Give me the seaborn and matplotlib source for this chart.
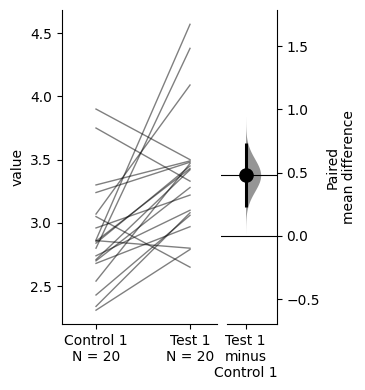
import numpy as np
import pandas as pd
import matplotlib
matplotlib.use('Agg')
import matplotlib.pyplot as plt
import seaborn as sns

groups = ['Control 1', 'Test 1']
control = [3.90, 3.75, 3.30, 3.24, 3.07, 3.05, 2.96, 2.865, 2.86, 2.84,
           2.80, 2.74, 2.71, 2.70, 2.68, 2.54, 2.43, 2.34, 2.31, 2.855]
test = [3.50, 3.33, 3.49, 3.48, 4.09, 2.65, 3.22, 4.57, 2.80, 3.45,
        4.38, 3.10, 3.42, 3.28, 2.97, 3.47, 3.06, 3.08, 2.79, 3.43]

n = len(control)
df = pd.DataFrame({
    'id': list(range(n)) * 2,
    'pos': [0] * n + [1] * n,
    'value': control + test,
})

diffs = np.array(test) - np.array(control)
mean_diff = diffs.mean()
se = diffs.std(ddof=1) / np.sqrt(n)
ci_low, ci_high = mean_diff - 1.96 * se, mean_diff + 1.96 * se
control_mean = np.mean(control)

fig = plt.figure(figsize=(3.65, 3.9), dpi=100)
ax = fig.add_axes([0.1685, 0.169, 0.426, 0.805])
cax = fig.add_axes([0.6055, 0.169, 0.153, 0.805])

# paired slopegraph
sns.lineplot(data=df, x='pos', y='value', units='id', estimator=None,
             color='black', alpha=0.5, lw=1, ax=ax)
ax.set_xlim(-0.367, 1.287)
ax.set_ylim(2.20, 4.682)
ax.set_xticks([0, 1])
ax.set_xticklabels([f'{g}\nN = {n}' for g in groups])
ax.set_yticks([2.5, 3.0, 3.5, 4.0, 4.5])
ax.set_xlabel('')
ax.set_ylabel('value')
sns.despine(ax=ax)

# contrast axes, aligned so 0 = control mean
lo, hi = ax.get_ylim()
cax.set_ylim(lo - control_mean, hi - control_mean)
cax.set_xlim(0, 1)
xc = 0.44
grid = np.linspace(mean_diff - 3.6 * se, mean_diff + 3.6 * se, 300)
dens = np.exp(-0.5 * ((grid - mean_diff) / se) ** 2)
cax.fill_betweenx(grid, xc, xc + 0.27 * dens, color='#8a8a8a', alpha=0.9, lw=0)
cax.axhline(0, color='black', lw=0.8)
cax.axhline(mean_diff, color='black', lw=0.8)
cax.plot([xc, xc], [ci_low, ci_high], color='black', lw=2.2, solid_capstyle='butt')
cax.plot([xc], [mean_diff], 'o', color='black', markersize=9.5)
cax.set_xticks([xc])
cax.set_xticklabels([f'{groups[1]}\nminus\n{groups[0]}'])
cax.yaxis.tick_right()
cax.yaxis.set_label_position('right')
cax.set_yticks([-0.5, 0.0, 0.5, 1.0, 1.5])
cax.set_ylabel('Paired\nmean difference')
for s in ['left', 'top']:
    cax.spines[s].set_visible(False)
cax.spines['bottom'].set_bounds(0.107, 1)

fig.savefig('out.png', dpi=100)
